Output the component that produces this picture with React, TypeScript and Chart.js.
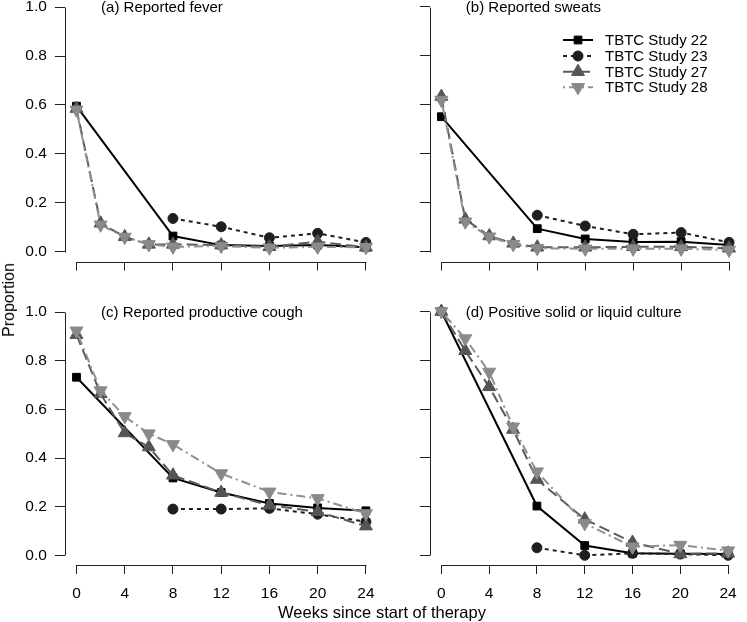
import React, { useEffect, useRef } from "react";
import { Chart, registerables } from "chart.js";

Chart.register(...registerables);

// ---------- data ----------
const weeksFull = [0, 2, 4, 6, 8, 12, 16, 20, 24];
const weeks22 = [0, 8, 12, 16, 20, 24];
const weeks23 = [8, 12, 16, 20, 24];
const xTickValues = [0, 4, 8, 12, 16, 20, 24];
const yTickValues = [0, 0.2, 0.4, 0.6, 0.8, 1.0];

const studyNames = ["TBTC Study 22", "TBTC Study 23", "TBTC Study 27", "TBTC Study 28"];
const panelTitles = [
  "(a) Reported fever",
  "(b) Reported sweats",
  "(c) Reported productive cough",
  "(d) Positive solid or liquid culture",
];
const xAxisTitle = "Weeks since start of therapy";
const yAxisTitle = "Proportion";

// (a) fever
const fever22 = [0.595, 0.064, 0.027, 0.023, 0.027, 0.018];
const fever23 = [0.136, 0.102, 0.057, 0.075, 0.038];
const fever27 = [0.585, 0.116, 0.061, 0.03, 0.03, 0.027, 0.02, 0.041, 0.018];
const fever28 = [0.58, 0.11, 0.06, 0.03, 0.02, 0.023, 0.016, 0.02, 0.018];
// (b) sweats
const sweats22 = [0.551, 0.094, 0.052, 0.04, 0.041, 0.027];
const sweats23 = [0.149, 0.105, 0.071, 0.078, 0.038];
const sweats27 = [0.633, 0.132, 0.064, 0.034, 0.018, 0.018, 0.02, 0.02, 0.014];
const sweats28 = [0.619, 0.122, 0.061, 0.03, 0.014, 0.012, 0.012, 0.012, 0.007];
// (c) productive cough
const cough22 = [0.732, 0.318, 0.258, 0.213, 0.195, 0.183];
const cough23 = [0.19, 0.19, 0.193, 0.169, 0.138];
const cough27 = [0.907, 0.664, 0.503, 0.445, 0.329, 0.258, 0.206, 0.179, 0.12];
const cough28 = [0.923, 0.677, 0.571, 0.5, 0.456, 0.336, 0.261, 0.234, 0.172];
// (d) positive culture
const culture22 = [1.0, 0.202, 0.04, 0.008, 0.006, 0.005];
const culture23 = [0.031, 0.0, 0.008, 0.005, 0.0];
const culture27 = [1.0, 0.839, 0.691, 0.516, 0.311, 0.148, 0.053, 0.006, 0.008];
const culture28 = [1.0, 0.889, 0.752, 0.527, 0.343, 0.131, 0.035, 0.042, 0.019];

// ---------- styles ----------
const FONT = "'Liberation Sans', Arial, Helvetica, sans-serif";
const seriesStyles = [
  { color: "#000000", lineColor: "#000000", dash: [] as number[], point: "rect", radius: 5.5, rotation: 0, order: 4 },
  { color: "#1e1e1e", lineColor: "#1e1e1e", dash: [4, 4], point: "circle", radius: 5, rotation: 0, order: 3 },
  { color: "#555555", lineColor: "#5a5a5a", dash: [11, 5], point: "triangle", radius: 7.5, rotation: 0, order: 2 },
  { color: "#8a8a8a", lineColor: "#909090", dash: [2, 4, 9, 4], point: "triangle", radius: 7.5, rotation: 180, order: 1 },
];

type Geo = {
  left: number; top: number; width: number; height: number;
  x0: number; x24: number; y0: number; y1: number;
  showX: boolean; showY: boolean; legend: boolean;
};

const panels: { geo: Geo; series: number[][] }[] = [
  { geo: { left: 0, top: -20, width: 386, height: 300, x0: 76.7, x24: 371.7, y0: 251.7, y1: 6.7, showX: false, showY: true, legend: false },
    series: [fever22, fever23, fever27, fever28] },
  { geo: { left: 386, top: -20, width: 361, height: 300, x0: 441.7, x24: 737.3, y0: 251.7, y1: 6.7, showX: false, showY: false, legend: true },
    series: [sweats22, sweats23, sweats27, sweats28] },
  { geo: { left: 0, top: 285, width: 386, height: 322, x0: 76.7, x24: 371.7, y0: 555.3, y1: 311.5, showX: true, showY: true, legend: false },
    series: [cough22, cough23, cough27, cough28] },
  { geo: { left: 386, top: 285, width: 361, height: 322, x0: 441.7, x24: 737.3, y0: 555.3, y1: 311.5, showX: true, showY: false, legend: false },
    series: [culture22, culture23, culture27, culture28] },
];

const seriesWeeks = [weeks22, weeks23, weeksFull, weeksFull];

function drawMarker(ctx: CanvasRenderingContext2D, kind: string, rotation: number, r: number, x: number, y: number, color: string) {
  ctx.save();
  ctx.fillStyle = color;
  ctx.strokeStyle = color;
  ctx.lineWidth = 1;
  ctx.setLineDash([]);
  ctx.beginPath();
  if (kind === "rect") {
    const s = r * Math.SQRT1_2;
    ctx.rect(x - s, y - s, 2 * s, 2 * s);
  } else if (kind === "circle") {
    ctx.arc(x, y, r, 0, Math.PI * 2);
  } else {
    const dir = rotation === 180 ? -1 : 1;
    ctx.moveTo(x, y - dir * r);
    ctx.lineTo(x + r * Math.cos(Math.PI / 6), y + dir * r * 0.5);
    ctx.lineTo(x - r * Math.cos(Math.PI / 6), y + dir * r * 0.5);
    ctx.closePath();
  }
  ctx.fill();
  ctx.stroke();
  ctx.restore();
}

function Panel({ idx }: { idx: number }) {
  const ref = useRef<HTMLCanvasElement | null>(null);
  const { geo, series } = panels[idx];

  const pxw = (geo.x24 - geo.x0) / 24;
  const chartL = geo.x0 - 0.96 * pxw;
  const chartR = Math.min(geo.x24 + 0.96 * pxw, geo.left + geo.width);
  const xmin = -0.96;
  const xmax = 24 + (chartR - geo.x24) / pxw;
  const pxv = geo.y0 - geo.y1;
  const chartB = geo.y0 + 0.04 * pxv;
  const chartT = Math.max(geo.y1 - 0.04 * pxv, geo.top + 12);
  const ymin = -0.04;
  const ymax = (geo.y0 - chartT) / pxv;
  const yAxisWidth = chartL - geo.left;
  const xAxisHeight = geo.top + geo.height - chartB;
  const padTop = chartT - geo.top;
  const padRight = geo.left + geo.width - chartR;

  useEffect(() => {
    if (!ref.current) return;
    const datasets = series.map((vals, s) => {
      const st = seriesStyles[s];
      return {
        label: studyNames[s],
        data: vals.map((v, i) => ({ x: seriesWeeks[s][i], y: v })),
        borderColor: st.lineColor,
        backgroundColor: st.color,
        borderWidth: 2,
        borderDash: st.dash,
        pointStyle: st.point,
        pointRotation: st.rotation,
        pointRadius: st.radius,
        pointBackgroundColor: st.color,
        pointBorderColor: st.color,
        pointBorderWidth: 1,
        tension: 0,
        fill: false,
        clip: false as any,
        order: st.order,
      };
    });

    const axesPlugin = {
      id: "rAxes",
      afterDraw(chart: any) {
        const ctx = chart.ctx as CanvasRenderingContext2D;
        const xs = chart.scales.x;
        const ys = chart.scales.y;
        const ca = chart.chartArea;
        ctx.save();
        ctx.strokeStyle = "#222";
        ctx.lineWidth = 1;
        ctx.setLineDash([]);
        const lx = Math.round(ca.left) + 0.5;
        ctx.beginPath();
        ctx.moveTo(lx, Math.round(ys.getPixelForValue(yTickValues[0])) + 0.5);
        ctx.lineTo(lx, Math.round(ys.getPixelForValue(yTickValues[yTickValues.length - 1])) + 0.5);
        ctx.stroke();
        const by = Math.round(ca.bottom) + 0.5;
        ctx.beginPath();
        ctx.moveTo(Math.round(xs.getPixelForValue(xTickValues[0])) + 0.5, by);
        ctx.lineTo(Math.round(xs.getPixelForValue(xTickValues[xTickValues.length - 1])) + 0.5, by);
        ctx.stroke();

        // panel title
        ctx.fillStyle = "#000";
        ctx.font = `15px ${FONT}`;
        ctx.textAlign = "left";
        ctx.textBaseline = "middle";
        ctx.fillText(panelTitles[idx], xs.getPixelForValue(2) + 0.5, ys.getPixelForValue(1) + 1);

        if (geo.legend) {
          const rowsY = [40, 56, 71.7, 87.3];
          for (let s = 0; s < 4; s++) {
            const st = seriesStyles[s];
            const yy = rowsY[s] - geo.top;
            const x1 = 563 - geo.left;
            const x2 = 593 - geo.left;
            ctx.beginPath();
            ctx.strokeStyle = st.lineColor;
            ctx.lineWidth = 2;
            ctx.setLineDash(st.dash);
            ctx.moveTo(x1, yy);
            ctx.lineTo(x2, yy);
            ctx.stroke();
            ctx.setLineDash([]);
            drawMarker(ctx, st.point, st.rotation, st.radius, (x1 + x2) / 2, yy, st.color);
            ctx.fillStyle = "#000";
            ctx.font = `15px ${FONT}`;
            ctx.textAlign = "left";
            ctx.textBaseline = "middle";
            ctx.fillText(studyNames[s], 605 - geo.left, yy + 1);
          }
        }
        ctx.restore();
      },
    };

    const chart = new Chart(ref.current, {
      type: "line",
      data: { datasets: datasets as any },
      options: {
        animation: false,
        responsive: false,
        devicePixelRatio: 1,
        layout: { padding: { top: padTop, right: padRight, left: 0, bottom: 0 } },
        plugins: {
          legend: { display: false },
          tooltip: { enabled: false },
          title: { display: false },
        },
        scales: {
          x: {
            type: "linear",
            position: "bottom",
            min: xmin,
            max: xmax,
            afterBuildTicks: (s: any) => {
              s.ticks = xTickValues.map((v) => ({ value: v }));
            },
            afterFit: (s: any) => {
              s.height = xAxisHeight;
            },
            grid: { display: true, drawOnChartArea: false, drawTicks: true, tickLength: 9, color: "#222", lineWidth: 1 },
            border: { display: false },
            ticks: {
              display: geo.showX,
              padding: 10,
              color: "#000",
              autoSkip: false,
              maxRotation: 0,
              font: { family: FONT, size: 15.5 },
              callback: (v: any) => String(v),
            },
          },
          y: {
            type: "linear",
            position: "left",
            min: ymin,
            max: ymax,
            afterBuildTicks: (s: any) => {
              s.ticks = yTickValues.map((v) => ({ value: v }));
            },
            afterFit: (s: any) => {
              s.width = yAxisWidth;
            },
            grid: { display: true, drawOnChartArea: false, drawTicks: true, tickLength: 10, color: "#222", lineWidth: 1 },
            border: { display: false },
            ticks: {
              display: geo.showY,
              padding: 8,
              color: "#000",
              autoSkip: false,
              font: { family: FONT, size: 15.5 },
              callback: (v: any) => Number(v).toFixed(1),
            },
          },
        },
      },
      plugins: [axesPlugin],
    });
    return () => chart.destroy();
  }, []);

  return (
    <canvas
      ref={ref}
      width={geo.width}
      height={geo.height}
      style={{ position: "absolute", left: geo.left, top: geo.top, width: geo.width, height: geo.height }}
    />
  );
}

export default function App() {
  return (
    <div style={{ position: "absolute", left: 0, top: 0, width: 747, height: 622, overflow: "hidden", background: "#fff" }}>
      {panels.map((_, i) => (
        <Panel key={i} idx={i} />
      ))}
      <div
        style={{
          position: "absolute",
          left: 8.5,
          top: 299.5,
          transform: "translate(-50%, -50%) rotate(-90deg)",
          fontFamily: FONT,
          fontSize: 16,
          whiteSpace: "nowrap",
          color: "#000",
        }}
      >
        {yAxisTitle}
      </div>
      <div
        style={{
          position: "absolute",
          left: 382,
          top: 612,
          transform: "translate(-50%, -50%)",
          fontFamily: FONT,
          fontSize: 16.5,
          whiteSpace: "nowrap",
          color: "#000",
        }}
      >
        {xAxisTitle}
      </div>
    </div>
  );
}
